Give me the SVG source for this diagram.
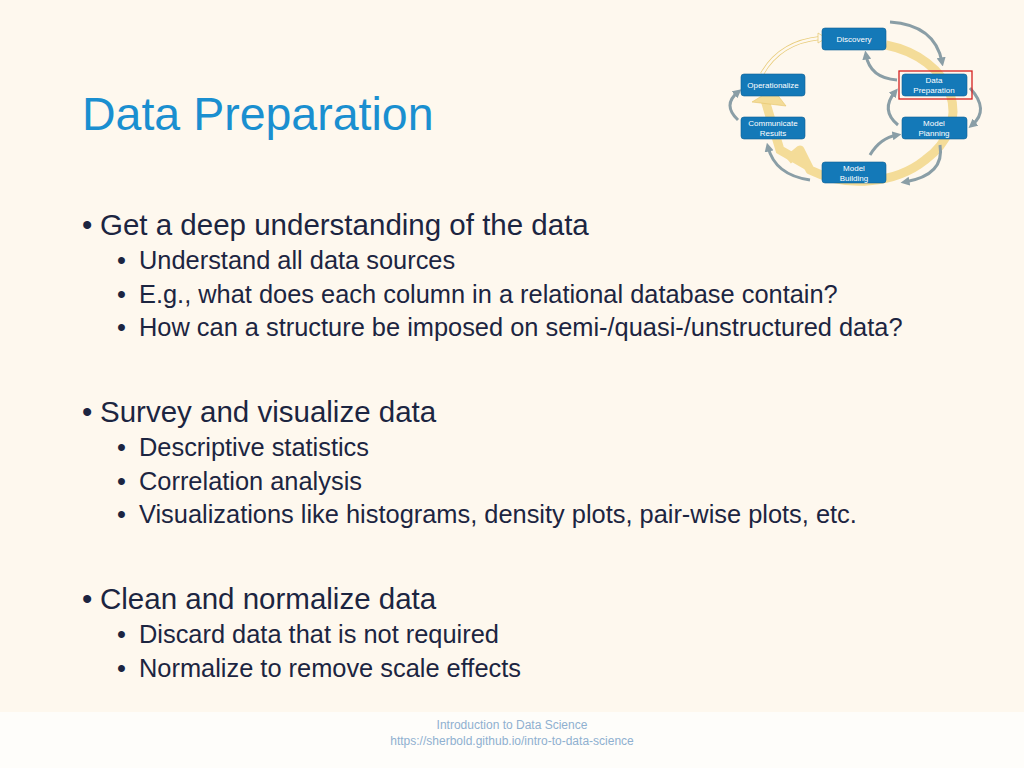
<svg xmlns="http://www.w3.org/2000/svg" width="1024" height="768" viewBox="0 0 1024 768">
<style>
.n rect{fill:#1479b8;stroke:#0e5f94;stroke-width:0.6}
.n rect.sel{fill:none;stroke:#d42020;stroke-width:1.3}
.n text{fill:#fff;font-family:"Liberation Sans",Arial,sans-serif;font-size:8px;text-anchor:middle}
.b{font-family:"Liberation Sans",Arial,sans-serif;fill:#1c2541}
.m{font-size:29.5px}
.s{font-size:25.4px}
.g{fill:none;stroke:#8a9ea6;stroke-width:3}
</style>
<defs>
<marker id="ga" viewBox="0 0 10 10" refX="5" refY="5" markerWidth="3" markerHeight="3" orient="auto"><path d="M0,0L10,5L0,10z" fill="#8a9ea6"/></marker>
</defs>
<rect width="1024" height="768" fill="#fef8ee"/>
<rect y="712" width="1024" height="56" fill="#fefdfa"/>
<text x="82" y="130" font-family="Liberation Sans,Arial,sans-serif" font-size="46.5" fill="#1a8fd0">Data Preparation</text>
<g id="connectors">
<path d="M886,45 A90,68 0 0 1 925,160 A90,68 0 0 1 810,170 L800,150 L788,160" fill="none" stroke="#f4dc98" stroke-width="9" stroke-linejoin="round"/>
<path d="M808,166 L780,150 L765,100" fill="none" stroke="#f4dc98" stroke-width="9"/>
<polygon points="752,102 773,89 786,106" fill="#f4dc98" stroke="#e6c46a" stroke-width="0.6"/>
<path d="M762,74 Q780,42 820,38" fill="none" stroke="#e8cc7a" stroke-width="4"/>
<path d="M762,74 Q780,42 820,38" fill="none" stroke="#fef8ee" stroke-width="2.6"/>
<polygon points="818,33 826,38 818,43" fill="#fef8ee" stroke="#e8cc7a" stroke-width="0.8"/>
<path class="g" d="M890,22 Q935,25 942,62" marker-end="url(#ga)"/>
<path class="g" d="M897,80 Q870,78 866,55" marker-end="url(#ga)"/>
<path class="g" d="M970,88 Q990,110 972,125" marker-end="url(#ga)"/>
<path class="g" d="M898,125 Q880,110 895,92" marker-end="url(#ga)"/>
<path class="g" d="M940,145 Q945,175 905,182" marker-end="url(#ga)"/>
<path class="g" d="M870,155 Q880,138 897,135" marker-end="url(#ga)"/>
<path class="g" d="M810,180 Q775,175 768,147" marker-end="url(#ga)"/>
<path class="g" d="M738,120 Q722,105 738,92" marker-end="url(#ga)"/>
</g>
<g id="discovery" class="n"><rect x="822" y="28" width="64" height="22" rx="3"/><text x="854" y="42">Discovery</text></g>
<g id="datapreparation" class="n"><rect x="902" y="74" width="65" height="22" rx="3"/><text x="934" y="83">Data</text><text x="934" y="93">Preparation</text>
<rect class="sel" x="899" y="71" width="73" height="28"/></g>
<g id="modelplanning" class="n"><rect x="902" y="117" width="65" height="22" rx="3"/><text x="934" y="126">Model</text><text x="934" y="136">Planning</text></g>
<g id="modelbuilding" class="n"><rect x="822" y="162" width="64" height="21" rx="3"/><text x="854" y="171">Model</text><text x="854" y="181">Building</text></g>
<g id="communicate" class="n"><rect x="741" y="117" width="64" height="22" rx="3"/><text x="773" y="126">Communicate</text><text x="773" y="136">Results</text></g>
<g id="operationalize" class="n"><rect x="741" y="74" width="64" height="22" rx="3"/><text x="773" y="88">Operationalize</text></g>
<g class="b">
<text x="82" y="235" class="m">•</text><text x="100" y="235" class="m">Get a deep understanding of the data</text>
<text x="117" y="269" class="s">•</text><text x="139" y="269" class="s">Understand all data sources</text>
<text x="117" y="303" class="s">•</text><text x="139" y="303" class="s">E.g., what does each column in a relational database contain?</text>
<text x="117" y="336" class="s">•</text><text x="139" y="336" class="s">How can a structure be imposed on semi-/quasi-/unstructured data?</text>
<text x="82" y="422" class="m">•</text><text x="100" y="422" class="m">Survey and visualize data</text>
<text x="117" y="456" class="s">•</text><text x="139" y="456" class="s">Descriptive statistics</text>
<text x="117" y="490" class="s">•</text><text x="139" y="490" class="s">Correlation analysis</text>
<text x="117" y="523" class="s">•</text><text x="139" y="523" class="s">Visualizations like histograms, density plots, pair-wise plots, etc.</text>
<text x="82" y="609" class="m">•</text><text x="100" y="609" class="m">Clean and normalize data</text>
<text x="117" y="643" class="s">•</text><text x="139" y="643" class="s">Discard data that is not required</text>
<text x="117" y="677" class="s">•</text><text x="139" y="677" class="s">Normalize to remove scale effects</text>
</g>
<g font-family="Liberation Sans,Arial,sans-serif" font-size="12" fill="#8fb0d0" text-anchor="middle">
<text x="512" y="729">Introduction to Data Science</text>
<text x="512" y="745">https://sherbold.github.io/intro-to-data-science</text>
</g>
</svg>
